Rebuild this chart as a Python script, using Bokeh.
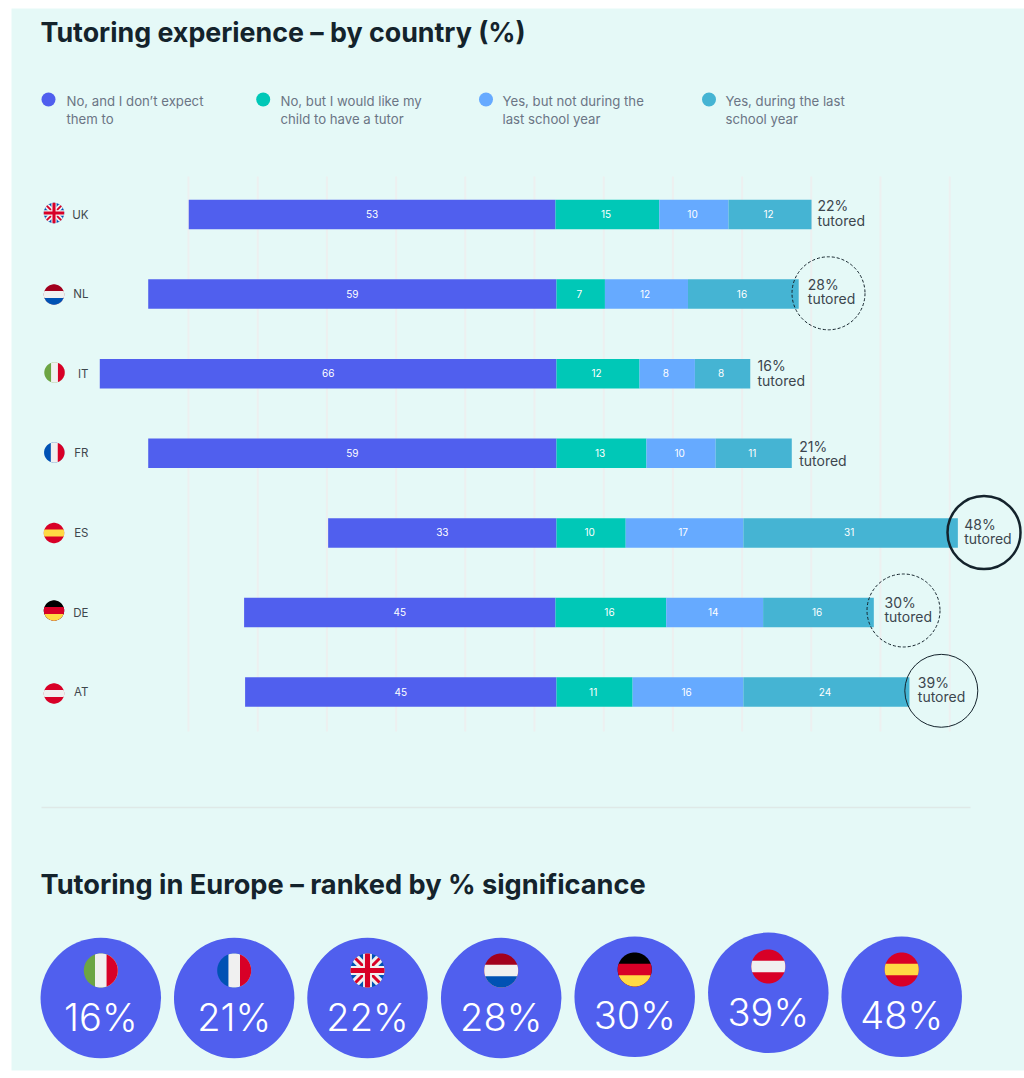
from bokeh.plotting import figure
from bokeh.models import Range1d
from bokeh.core.properties import value
from bokeh.embed import file_html
from bokeh.resources import INLINE
import numpy as np

# ---------- data ----------
countries = ["UK", "NL", "IT", "FR", "ES", "DE", "AT"]
no_expect = [53, 59, 66, 59, 33, 45, 45]
no_like = [15, 7, 12, 13, 10, 16, 11]
yes_not_last = [10, 12, 8, 10, 17, 14, 16]
yes_last = [12, 16, 8, 11, 31, 16, 24]
tutored = [22, 28, 16, 21, 48, 30, 39]
rank_codes = ["IT", "FR", "UK", "NL", "DE", "AT", "ES"]
rank_values = [16, 21, 22, 28, 30, 39, 48]
grid_ticks = [-53, -43, -33, -23, -13, -3, 7, 17, 27, 37, 47, 57]
legend_lines = [
    ["No, and I don’t expect", "them to"],
    ["No, but I would like my", "child to have a tutor"],
    ["Yes, but not during the", "last school year"],
    ["Yes, during the last", "school year"],
]
title_1 = "Tutoring experience – by country (%)"
title_2 = "Tutoring in Europe – ranked by % significance"

# ---------- styles / layout ----------
BG = "#E5F9F7"
C1, C2, C3, C4 = "#505FEE", "#00C8B7", "#66AAFF", "#45B4D3"
DARK = "#14232C"
FONT = value("Inter")
LIGHT = value("Inter Light")
W, H = 1024, 1078
X0, S = 556.0, 6.92      # px of zero, px per percentage point
R0, RS = 214.0, 79.6     # px of first row, px per row
row_shift = np.array([-1, 0, 0, 0, 0, -1, 0]) / S   # small per-row baseline shift of the bars
grid_shift = -0.18

p = figure(width=W, height=H, toolbar_location=None, output_backend="svg",
           x_range=Range1d((0 - X0) / S, (W - X0) / S),
           y_range=Range1d((H - R0) / RS, (0 - R0) / RS),
           min_border=0, outline_line_color=None,
           background_fill_color="white", border_fill_color="white")
p.axis.visible = False
p.grid.visible = False
p.extra_x_ranges["px"] = Range1d(0, W)
p.extra_y_ranges["px"] = Range1d(H, 0)
px = dict(x_range_name="px", y_range_name="px")

# panel
p.quad(left=[11], right=[W], top=[8], bottom=[1070], fill_color=BG, line_color=None, **px)

# grid
gx = [t + grid_shift for t in grid_ticks]
p.segment(x0=gx, x1=gx, y0=[176] * len(gx), y1=[731] * len(gx),
          line_color="#EDF0F0", line_width=2, y_range_name="px")

# bars
rows = list(range(len(countries)))
n1 = np.array(no_expect); n2 = np.array(no_like); n3 = np.array(yes_not_last); n4 = np.array(yes_last)
h = 29.5 / RS
label_y = [r - 0.5 / RS for r in rows]
spans = [(-n1, 0 * n1, C1, no_expect, 0.0), (0 * n1, n2, C2, no_like, -0.2),
         (n2, n2 + n3, C3, yes_not_last, -0.2), (n2 + n3, n2 + n3 + n4, C4, yes_last, -0.2)]
for lo, hi, col, vals, nudge in spans:
    p.hbar(y=rows, left=(lo + row_shift).tolist(), right=(hi + row_shift).tolist(), height=h,
           fill_color=col, line_color=None)
    p.text(x=((lo + hi) / 2 + row_shift + nudge).tolist(), y=label_y, text=[str(v) for v in vals],
           text_color="white", text_font=FONT, text_font_size="10px", text_align="center",
           text_baseline="middle")

# country labels
row_y = [R0 + RS * i for i in rows]
p.text(x=[88] * 7, y=row_y, text=countries, text_color="#3F474D", text_font=FONT,
       text_font_size="11.5px", text_align="right", text_baseline="middle", **px)

# tutored labels
lab_x = [817, 807.3, 757, 798.7, 963.7, 884, 917.3]
lab_y1 = [205, 283.7, 364.7, 445.7, 523.7, 601.7, 681.7]
lab_y2 = [219.7, 297.7, 379.7, 459.7, 537.7, 615.7, 696.3]
p.text(x=lab_x, y=lab_y1, text=[f"{v}%" for v in tutored], text_color="#3C464E", text_font=FONT,
       text_font_size="14px", text_baseline="middle", **px)
p.text(x=lab_x, y=lab_y2, text=["tutored"] * 7, text_color="#3C464E", text_font=FONT,
       text_font_size="14px", text_baseline="middle", **px)

# highlight circles
p.scatter(x=[828, 903], y=[292.8, 610], size=73, fill_color=None, line_color=DARK, line_width=1,
          line_dash="3 2", **px)
p.scatter(x=[940.8], y=[690.3], size=73, fill_color=None, line_color=DARK, line_width=1, **px)
p.scatter(x=[983.5], y=[532], size=73, fill_color=None, line_color=DARK, line_width=2.5, **px)

# titles
p.text(x=[40], y=[31.5], text=[title_1], text_color=DARK, text_font=FONT, text_font_style="bold",
       text_font_size="26.8px", text_baseline="middle", **px)
p.text(x=[40], y=[883.5], text=[title_2], text_color=DARK, text_font=FONT, text_font_style="bold",
       text_font_size="27.2px", text_baseline="middle", **px)

# legend
leg_dot = [48, 262.7, 485.5, 708.5]
leg_txt = [66, 280, 502, 725]
p.scatter(x=leg_dot, y=[99] * 4, size=14, fill_color=[C1, C2, C3, C4], line_color=None, **px)
p.text(x=leg_txt, y=[100] * 4, text=[l[0] for l in legend_lines], text_color="#6B7585",
       text_font=FONT, text_font_size="13.2px", text_baseline="middle", **px)
p.text(x=leg_txt, y=[118] * 4, text=[l[1] for l in legend_lines], text_color="#6B7585",
       text_font=FONT, text_font_size="13.2px", text_baseline="middle", **px)

# separator
p.segment(x0=[41], x1=[970], y0=[807], y1=[807], line_color="#DFE9E7", line_width=1.5, **px)

# ranking circles
rk_x = [100.3, 233.7, 367, 500.7, 634.2, 767.8, 901.2]
rk_y = [997.5, 997.5, 997.5, 997.5, 996.3, 992.3, 996.3]
rk_mid = [1016.5, 1016.5, 1016.5, 1016.5, 1014.8, 1011.5, 1014.8]
rk_flag_y = [970, 970, 970, 970, 969, 966, 969]
p.scatter(x=rk_x, y=rk_y, size=120.5, fill_color=C1, line_color=None, **px)
p.text(x=rk_x, y=rk_mid, text=[f"{v}%" for v in rank_values], text_color="white", text_font=LIGHT,
       text_font_size="38px", text_align="center", text_baseline="middle", **px)

# flags: convex shapes clipped to a circle
theta = np.linspace(0, 2 * np.pi, 72, endpoint=False)
CIRC = list(zip(np.cos(theta), np.sin(theta)))


def clip(poly):
    out = poly
    n = len(CIRC)
    for i in range(n):
        ax, ay = CIRC[i]
        bx, by = CIRC[(i + 1) % n]
        side = lambda q: (bx - ax) * (q[1] - ay) - (by - ay) * (q[0] - ax)
        res = []
        for j in range(len(out)):
            a, b = out[j], out[(j + 1) % len(out)]
            sa, sb = side(a), side(b)
            if sa >= 0:
                res.append(a)
            if sa * sb < 0:
                t = sa / (sa - sb)
                res.append((a[0] + t * (b[0] - a[0]), a[1] + t * (b[1] - a[1])))
        out = res
        if not out:
            break
    return out


def rect(x0, x1, y0, y1):
    return [(x0, y0), (x1, y0), (x1, y1), (x0, y1)]


def diag(w, sign):
    # band along a diagonal with half width w
    d = w / np.sqrt(2)
    L = 1.5
    return [(-L - d, -sign * L + sign * d), (-L + d, -sign * L - sign * d),
            (L + d, sign * L - sign * d), (L - d, sign * L + sign * d)]


RED, WHITE, BLUE, YEL = "#D80027", "#F0F0F0", "#0052B4", "#FFDA44"
T = 0.34
FLAGS = {
    "NL": ["#A2001D", (WHITE, rect(-2, 2, -T, 2)), (BLUE, rect(-2, 2, T, 2))],
    "IT": ["#6DA544", (WHITE, rect(-T, 2, -2, 2)), (RED, rect(T, 2, -2, 2))],
    "FR": [BLUE, (WHITE, rect(-T, 2, -2, 2)), (RED, rect(T, 2, -2, 2))],
    "ES": [RED, (YEL, rect(-2, 2, -T, T))],
    "DE": ["#000000", (RED, rect(-2, 2, -T, 2)), (YEL, rect(-2, 2, T, 2))],
    "AT": [RED, (WHITE, rect(-2, 2, -T, T))],
    "UK": [BLUE, (WHITE, diag(0.26, 1)), (WHITE, diag(0.26, -1)), (RED, diag(0.09, 1)), (RED, diag(0.09, -1)),
           (WHITE, rect(-0.26, 0.26, -2, 2)), (WHITE, rect(-2, 2, -0.26, 0.26)),
           (RED, rect(-0.15, 0.15, -2, 2)), (RED, rect(-2, 2, -0.15, 0.15))],
}

fx, fy, fc = [], [], []


def add_flag(code, cx, cy, r):
    spec = FLAGS[code]
    shapes = [(spec[0], CIRC)] + [(c, clip(s)) for c, s in spec[1:]]
    for col, poly in shapes:
        fx.append([cx + r * q[0] for q in poly])
        fy.append([cy + r * q[1] for q in poly])
        fc.append(col)


flag_xy = {"UK": (53.5, 212.5), "NL": (53.5, 294), "IT": (54, 372), "FR": (53.8, 452),
           "ES": (53.5, 532.5), "DE": (53.5, 610), "AT": (53.5, 693)}
for code in countries:
    add_flag(code, *flag_xy[code], 10.2)
for code, x, y in zip(rank_codes, rk_x, rk_flag_y):
    add_flag(code, x, y, 17)
p.patches(xs=fx, ys=fy, fill_color=fc, line_color=None, **px)

open("out.html", "w").write(file_html(p, INLINE))
